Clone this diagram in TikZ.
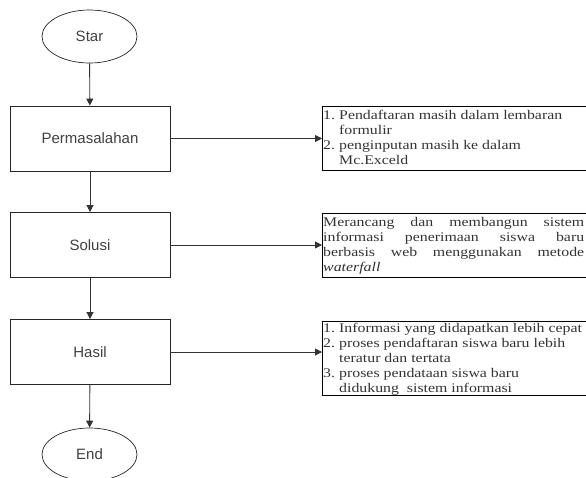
\documentclass[tikz,border=0pt]{standalone}
\usepackage{fontspec}
\setmainfont{Liberation Serif}
\setsansfont{Liberation Sans}
\newfontfamily\notefont[FakeStretch=1.2]{Liberation Serif}
\usetikzlibrary{shapes.geometric,arrows.meta}
\newcommand{\numitem}[1]{\makebox[16pt][l]{#1}}
\newcommand{\notepar}[1]{\parbox[t]{270pt}{\raggedright #1}}
\newcommand{\fullline}[1]{\makebox[261pt][l]{#1}}
\begin{document}
\begin{tikzpicture}[x=1pt,y=-1pt,
  term/.style={ellipse,draw=black!85,line width=0.7pt,minimum width=95pt,minimum height=53pt,inner sep=0pt,font=\sffamily\fontsize{15}{17}\selectfont,text=black!75},
  procbox/.style={rectangle,draw=black!85,line width=0.9pt,minimum width=160pt,minimum height=65pt,inner sep=0pt,font=\sffamily\fontsize{15}{17}\selectfont,text=black!75},
  notebox/.style={rectangle,draw=black,line width=1pt,anchor=north west,inner sep=0pt},
  flow/.style={draw=black!80,line width=0.9pt,-{Triangle[width=7pt,length=7pt]}},
  notetext/.style={font=\notefont\fontsize{13.2}{15}\selectfont,text=black!80,anchor=base west,inner sep=0pt}
]
\clip (0,0) rectangle (586,477);
\useasboundingbox (0,0) rectangle (586,477);

\node[term] (star) at (89.5,36.5) {Star};
\node[procbox] (perm) at (90,138.5) {Permasalahan};
\node[procbox] (sol) at (90,245) {Solusi};
\node[procbox] (has) at (90,352) {Hasil};
\node[term] (end) at (89.5,454.5) {End};

\draw[flow] (star) -- (perm);
\draw[flow] (perm) -- (sol);
\draw[flow] (sol) -- (has);
\draw[flow] (has) -- (end);

% right boxes (extend past the right edge)
\node[notebox,minimum width=280pt,minimum height=64pt] (n1) at (322,106) {};
\node[notebox,minimum width=280pt,minimum height=64pt] (n2) at (322,213) {};
\node[notebox,minimum width=280pt,minimum height=74pt] (n3) at (322,321) {};

\node[notetext] (t1) at (323,119) {\notepar{%
\numitem{1.}Pendaftaran masih dalam lembaran\\
\numitem{}formulir\\
\numitem{2.}penginputan masih ke dalam\\
\numitem{}Mc.Exceld}};

\node[notetext] (t2) at (323,226) {\notepar{%
\fullline{Merancang\hfill dan\hfill membangun\hfill sistem}\\
\fullline{informasi\hfill penerimaan\hfill siswa\hfill baru}\\
\fullline{berbasis\hfill web\hfill menggunakan\hfill metode}\\
\textit{waterfall}}};

\node[notetext] (t3) at (323,332) {\notepar{%
\numitem{1.}Informasi yang didapatkan lebih cepat\\
\numitem{2.}proses pendaftaran siswa baru lebih\\
\numitem{}teratur dan tertata\\
\numitem{3.}proses pendataan siswa baru\\
\numitem{}didukung\ \ sistem informasi}};

\draw[flow] (perm.east) -- (perm.east -| n1.west);
\draw[flow] (sol.east) -- (sol.east -| n2.west);
\draw[flow] (has.east) -- (has.east -| n3.west);
\end{tikzpicture}
\end{document}
